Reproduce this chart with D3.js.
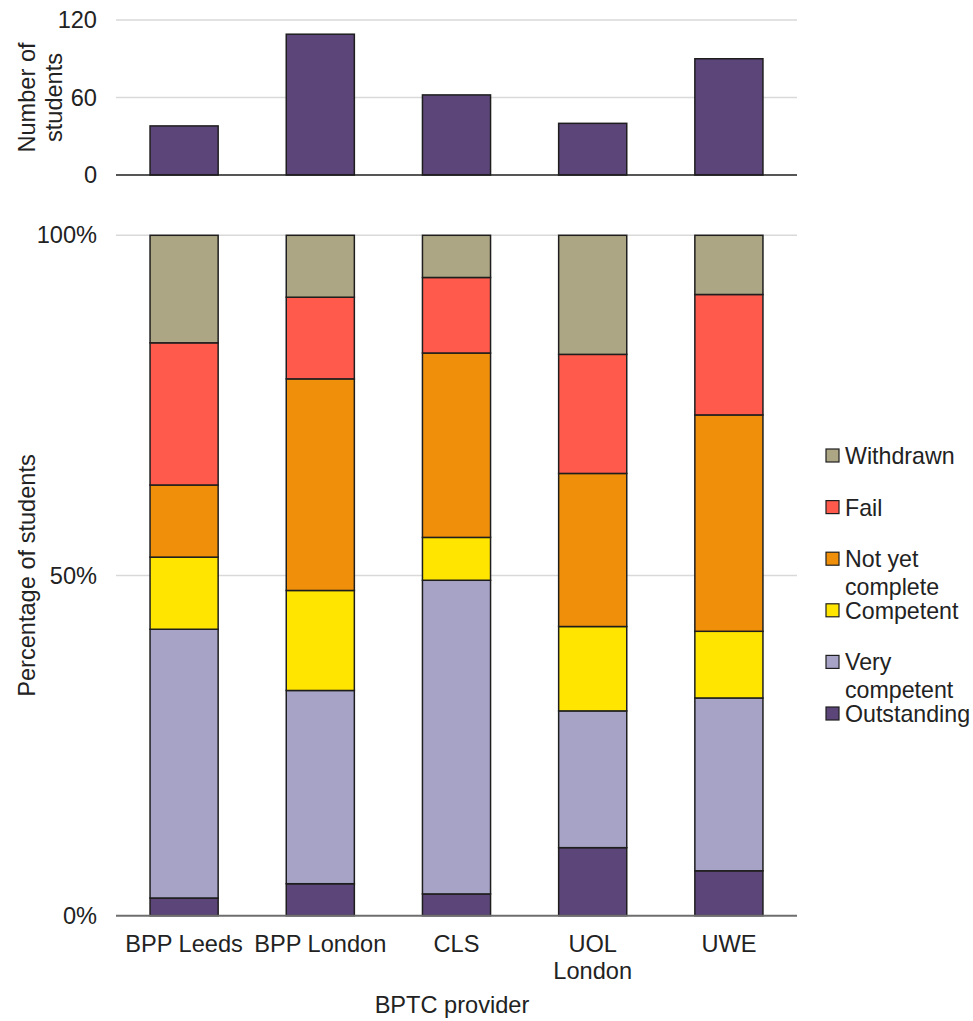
<!DOCTYPE html>
<html>
<head>
<meta charset="utf-8">
<script src="https://cdn.jsdelivr.net/npm/d3@7"></script>
<style>
  html, body { margin: 0; padding: 0; background: #fff; }
  svg { display: block; font-family: "Liberation Sans", Arial, sans-serif; }
  text { fill: #222; }
</style>
</head>
<body>
<div id="chart"></div>
<script>
// BPTC outcomes by provider: student counts on top, outcome shares below.

const providers = ["BPP Leeds", "BPP London", "CLS", "UOL London", "UWE"];
const providerLabels = [["BPP Leeds"], ["BPP London"], ["CLS"], ["UOL", "London"], ["UWE"]];
const studentCounts = [38, 109, 62, 40, 90];

// stack order, bottom to top
const seriesKeys = ["Outstanding", "Very competent", "Competent", "Not yet complete", "Fail", "Withdrawn"];
const legendLabels = [["Outstanding"], ["Very", "competent"], ["Competent"], ["Not yet", "complete"], ["Fail"], ["Withdrawn"]];
const seriesColors = ["#5c4578", "#a6a3c6", "#ffe500", "#f0900a", "#ff5a4c", "#aca684"];

// percentages per provider, same order as seriesKeys
const outstanding    = [2.6, 4.7, 3.2, 10.0, 6.6];
const veryCompetent  = [39.5, 28.4, 46.1, 20.1, 25.4];
const competent      = [10.6, 14.7, 6.3, 12.4, 9.8];
const notYetComplete = [10.6, 31.1, 27.1, 22.5, 31.8];
const fail           = [20.9, 12.0, 11.1, 17.5, 17.7];
const withdrawn      = [15.8, 9.1, 6.2, 17.5, 8.7];

const countTicks = [0, 60, 120];
const pctTicks = [0, 50, 100];

(function () {
  "use strict";

  const W = 973, H = 1021;
  const svg = d3.select("#chart").append("svg").attr("width", W).attr("height", H);

  const rows = providers.map((p, i) => ({
    provider: p,
    "Outstanding": outstanding[i],
    "Very competent": veryCompetent[i],
    "Competent": competent[i],
    "Not yet complete": notYetComplete[i],
    "Fail": fail[i],
    "Withdrawn": withdrawn[i],
  }));

  const x = d3.scaleBand().domain(providers).range([116, 797])
    .paddingInner(0.5).paddingOuter(0.25);
  const yCount = d3.scaleLinear().domain([0, 120]).range([175, 20]);
  const yPct = d3.scaleLinear().domain([0, 100]).range([915.7, 235.3]);
  const color = d3.scaleOrdinal().domain(seriesKeys).range(seriesColors);

  const fontSize = 23.6;

  // --- gridlines ---
  function grid(scale, ticks) {
    svg.append("g").selectAll("line").data(ticks.filter(t => t !== 0)).enter().append("line")
      .attr("x1", 116).attr("x2", 797)
      .attr("y1", d => scale(d)).attr("y2", d => scale(d))
      .attr("stroke", "#d9d9d9").attr("stroke-width", 1.5);
  }
  grid(yCount, countTicks);
  grid(yPct, pctTicks);

  // --- top: number of students ---
  svg.append("g").selectAll("rect").data(studentCounts).enter().append("rect")
    .attr("x", (d, i) => x(providers[i])).attr("width", x.bandwidth())
    .attr("y", d => yCount(d)).attr("height", d => yCount(0) - yCount(d))
    .attr("fill", seriesColors[0]).attr("stroke", "#1e1e1e").attr("stroke-width", 1.5);

  svg.append("line").attr("x1", 116).attr("x2", 797)
    .attr("y1", yCount(0)).attr("y2", yCount(0))
    .attr("stroke", "#1e1e1e").attr("stroke-width", 1.5);

  const yAxisCount = svg.append("g").attr("transform", "translate(116,0)")
    .call(d3.axisLeft(yCount).tickValues(countTicks).tickSize(0).tickPadding(19));
  yAxisCount.select(".domain").remove();
  yAxisCount.selectAll("text").attr("font-size", fontSize).attr("font-family", null).attr("fill", "#222");

  const countTitle = svg.append("text").attr("font-size", fontSize)
    .attr("text-anchor", "middle")
    .attr("transform", `translate(0,${(yCount(0) + yCount(120)) / 2}) rotate(-90)`);
  countTitle.append("tspan").attr("x", 0).attr("y", 35).text("Number of");
  countTitle.append("tspan").attr("x", 0).attr("y", 62).text("students");

  // --- bottom: stacked percentages ---
  const stack = d3.stack().keys(seriesKeys)(rows);
  svg.append("g").selectAll("g").data(stack).enter().append("g")
    .attr("fill", d => color(d.key))
    .selectAll("rect").data(d => d).enter().append("rect")
    .attr("x", d => x(d.data.provider)).attr("width", x.bandwidth())
    .attr("y", d => yPct(d[1])).attr("height", d => yPct(d[0]) - yPct(d[1]))
    .attr("stroke", "#1e1e1e").attr("stroke-width", 1.5);

  svg.append("line").attr("x1", 116).attr("x2", 797)
    .attr("y1", yPct(0)).attr("y2", yPct(0))
    .attr("stroke", "#6e6e6e").attr("stroke-width", 2);

  const yAxisPct = svg.append("g").attr("transform", "translate(116,0)")
    .call(d3.axisLeft(yPct).tickValues(pctTicks).tickFormat(d => d + "%").tickSize(0).tickPadding(19));
  yAxisPct.select(".domain").remove();
  yAxisPct.selectAll("text").attr("font-size", fontSize).attr("font-family", null).attr("fill", "#222");

  svg.append("text").attr("font-size", fontSize).attr("text-anchor", "middle")
    .attr("transform", `translate(35,${(yPct(0) + yPct(100)) / 2}) rotate(-90)`)
    .text("Percentage of students");

  // x labels
  const xl = svg.append("g").selectAll("text").data(providerLabels).enter().append("text")
    .attr("font-size", fontSize).attr("text-anchor", "middle");
  xl.each(function (lines, i) {
    const t = d3.select(this);
    lines.forEach((ln, j) => {
      t.append("tspan").attr("x", x(providers[i]) + x.bandwidth() / 2)
        .attr("y", 952 + j * 27).text(ln);
    });
  });

  svg.append("text").attr("font-size", fontSize).attr("text-anchor", "middle")
    .attr("x", 452).attr("y", 1013).text("BPTC provider");

  // --- legend (top item = last series) ---
  const legendOrder = seriesKeys.slice().reverse();
  const ly = d3.scalePoint().domain(legendOrder).range([456, 714]);
  const lg = svg.append("g").selectAll("g").data(legendOrder).enter().append("g")
    .attr("transform", d => `translate(826,${ly(d)})`);
  lg.append("rect").attr("x", 0).attr("y", -7).attr("width", 13).attr("height", 13)
    .attr("fill", d => color(d)).attr("stroke", "#1e1e1e").attr("stroke-width", 1.2);
  lg.append("text").attr("font-size", 23.2).each(function (d) {
    const lines = legendLabels[seriesKeys.indexOf(d)];
    const t = d3.select(this);
    lines.forEach((ln, j) => {
      t.append("tspan").attr("x", 19).attr("y", 8 + j * 28).text(ln);
    });
  });
})();
</script>
</body>
</html>
